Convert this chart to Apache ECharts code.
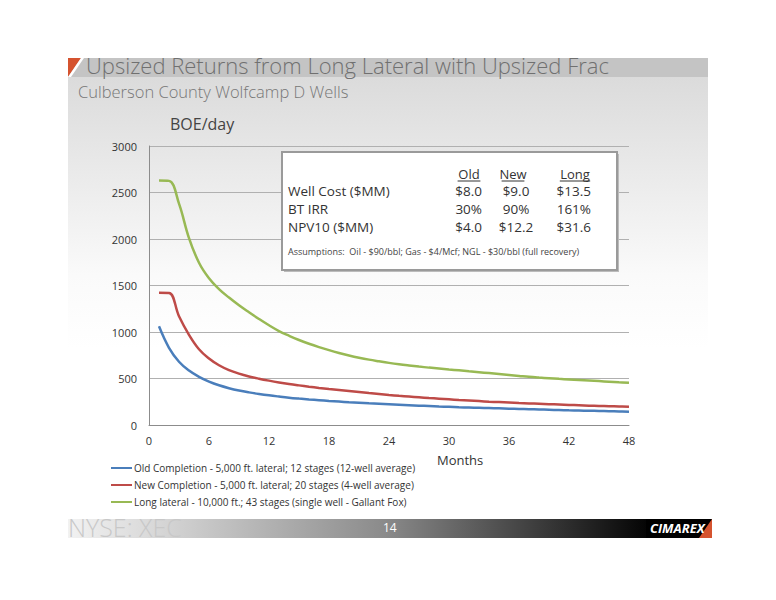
<!DOCTYPE html>
<html>
<head>
<meta charset="utf-8">
<script src="https://cdn.jsdelivr.net/npm/echarts@6/dist/echarts.min.js"></script>
<style>
html,body{margin:0;padding:0;background:#fff;}
#chart{width:776px;height:600px;}
</style>
</head>
<body>
<div id="chart"></div>
<script>
// ---- data ----
var months = [1,2,3,4,5,6,7,8,9,10,11,12,13,14,15,16,17,18,19,20,21,22,23,24,25,26,27,28,29,30,31,32,33,34,35,36,37,38,39,40,41,42,43,44,45,46,47,48];
var oldCompletion = [1061,830,680,585,518,467,427,396,371,351,334,319,306,294,284,275,267,259,252,245,239,233,228,223,218,213,208,204,199,195,191,188,185,182,179,176,173,170,167,164,161,158,156,153,151,148,146,143];
var newCompletion = [1422,1420,1170,970,815,715,642,590,552,522,498,477,458,441,426,412,399,387,376,365,354,343,333,323,314,306,298,290,283,276,269,263,257,251,246,241,236,232,228,224,220,216,212,208,205,202,199,196];
var longLateral = [2628,2625,2380,2010,1745,1578,1462,1370,1287,1212,1140,1072,1010,960,914,874,838,805,775,748,724,703,685,668,653,640,628,617,607,597,588,578,568,558,548,538,528,518,510,503,496,490,484,478,472,466,460,455];
var seriesNames = [
  'Old Completion - 5,000 ft. lateral; 12 stages (12-well average)',
  'New Completion - 5,000 ft. lateral; 20 stages (4-well average)',
  'Long lateral - 10,000 ft.; 43 stages (single well - Gallant Fox)'
];
var yTicks = [0,500,1000,1500,2000,2500,3000];
var xTicks = [0,6,12,18,24,30,36,42,48];
var tableHeader = ['Old','New','Long'];
var tableRows = [
  ['Well Cost ($MM)','$8.0','$9.0','$13.5'],
  ['BT IRR','30%','90%','161%'],
  ['NPV10 ($MM)','$4.0','$12.2','$31.6']
];
var assumptions = 'Assumptions:  Oil - $90/bbl; Gas - $4/Mcf; NGL - $30/bbl (full recovery)';
var titleText = 'Upsized Returns from Long Lateral with Upsized Frac';
var subtitleText = 'Culberson County Wolfcamp D Wells';

function pairs(vals){ return months.map(function(m,i){ return [m, vals[i]]; }); }

var FONT = '"Open Sans", "Noto Sans", sans-serif';
var chart = echarts.init(document.getElementById('chart'), null, {renderer:'svg'});

var graphics = [
  // background panel with gradient
  {type:'rect', shape:{x:68,y:58,width:640,height:290}, z:-10, silent:true,
   style:{fill:new echarts.graphic.LinearGradient(0,0,0,1,[{offset:0,color:'#d8d8d8'},{offset:0.75,color:'#fafafa'},{offset:1,color:'#ffffff'}])}},
  // title band
  {type:'rect', shape:{x:68,y:58,width:640,height:19}, z:-9, silent:true, style:{fill:'#c4c4c4'}},
  {type:'polygon', shape:{points:[[68,58],[81,58],[68,77]]}, z:-8, silent:true, style:{fill:'#d5532f'}},
  {type:'polygon', shape:{points:[[81,58],[84,58],[71,77],[68,77]]}, z:-8, silent:true, style:{fill:'#ffffff'}},
  {type:'text', left:86, top:54, z:5, style:{text:titleText, font:'300 22px '+FONT, fill:'#707070', lineHeight:21}},
  {type:'text', left:78, top:83, z:5, style:{text:subtitleText, font:'300 16.5px '+FONT, fill:'#777777', lineHeight:16}},
  {type:'text', left:170, top:116, z:5, style:{text:'BOE/day', font:'16px '+FONT, fill:'#444444'}},
  {type:'text', left:437, top:453, z:5, style:{text:'Months', font:'13px '+FONT, fill:'#333333'}},
  // table box
  {type:'rect', shape:{x:284,y:154,width:335,height:118}, z:3, silent:true, style:{fill:'#bbbbbb'}},
  {type:'rect', shape:{x:282,y:152,width:335,height:118}, z:4, silent:true, style:{fill:'#ffffff', stroke:'#9a9a9a', lineWidth:2}},
  // bottom bar
  {type:'rect', shape:{x:68,y:519,width:578,height:19}, z:1, silent:true,
   style:{fill:new echarts.graphic.LinearGradient(0,0,1,0,[{offset:0,color:'#f2f2f2'},{offset:0.15,color:'#d8d8d8'},{offset:0.55,color:'#8a8a8a'},{offset:1,color:'#050505'}])}},
  {type:'rect', shape:{x:646,y:519,width:66,height:19}, z:1, silent:true, style:{fill:'#000000'}},
  {type:'polygon', shape:{points:[[712,519],[712,538],[699,538]]}, z:2, silent:true, style:{fill:'#d5532f'}},
  {type:'text', left:650, top:521, z:3, style:{text:'CIMAREX', font:'italic bold 13px '+FONT, fill:'#ffffff'}},
  {type:'text', left:68, top:514, z:3, style:{text:'NYSE: XEC', font:'300 25px '+FONT, fill:'#c8c8c8'}},
  {type:'text', left:383, top:521, z:3, style:{text:'14', font:'12px '+FONT, fill:'#ffffff'}}
];

// table text
var headerX = [469, 513, 575];
tableHeader.forEach(function(h,i){
  graphics.push({type:'text', x:headerX[i], y:166, z:5, style:{text:h, font:'13px '+FONT, fill:'#333', textAlign:'center', lineHeight:15}});
  var w = h.length*7.6;
  graphics.push({type:'line', z:5, shape:{x1:headerX[i]-w/2,y1:181,x2:headerX[i]+w/2,y2:181}, style:{stroke:'#333',lineWidth:1}});
});
var colX = [288, 482, 516, 591];
var colAlign = ['left','right','center','right'];
tableRows.forEach(function(r,ri){
  r.forEach(function(c,ci){
    graphics.push({type:'text', x:colX[ci], y:183+ri*18, z:5, style:{text:c, font:'13.5px '+FONT, fill:'#333', textAlign:colAlign[ci], lineHeight:15}});
  });
});
graphics.push({type:'text', x:288, y:247, z:5, style:{text:assumptions, font:'9px '+FONT, fill:'#444'}});

var option = {
  backgroundColor:'transparent',
  animation:false,
  graphic: graphics,
  grid:{left:149, right:147, top:146, bottom:175, containLabel:false},
  legend:{
    orient:'vertical', left:106, top:458, itemWidth:21, itemHeight:2, itemGap:7,
    icon:'rect',
    textStyle:{fontSize:10, fontFamily:FONT, color:'#333', padding:[0,0,0,-3]},
    data: seriesNames
  },
  xAxis:{
    type:'value', min:0, max:48, interval:6,
    axisLine:{show:true, lineStyle:{color:'#8c8c8c', width:1}},
    axisTick:{show:false},
    splitLine:{show:false},
    axisLabel:{color:'#333', fontSize:11, fontFamily:FONT, margin:10, formatter:function(v){return String(v);}}
  },
  yAxis:{
    type:'value', min:0, max:3000, interval:500,
    axisLine:{show:true, lineStyle:{color:'#8c8c8c', width:1}},
    axisTick:{show:false},
    splitLine:{show:true, lineStyle:{color:'#b0b0b0', width:1}},
    axisLabel:{color:'#333', fontSize:11, fontFamily:FONT, margin:12, formatter:function(v){return String(v);}}
  },
  series:[
    {name:seriesNames[0], type:'line', data:pairs(oldCompletion), showSymbol:false, smooth:0.4, color:'#4a7ebb', lineStyle:{width:2.5}, z:2},
    {name:seriesNames[1], type:'line', data:pairs(newCompletion), showSymbol:false, smooth:0.4, color:'#be4b48', lineStyle:{width:2.5}, z:2},
    {name:seriesNames[2], type:'line', data:pairs(longLateral), showSymbol:false, smooth:0.4, color:'#98b954', lineStyle:{width:2.5}, z:2}
  ]
};
chart.setOption(option);
</script>
</body>
</html>
